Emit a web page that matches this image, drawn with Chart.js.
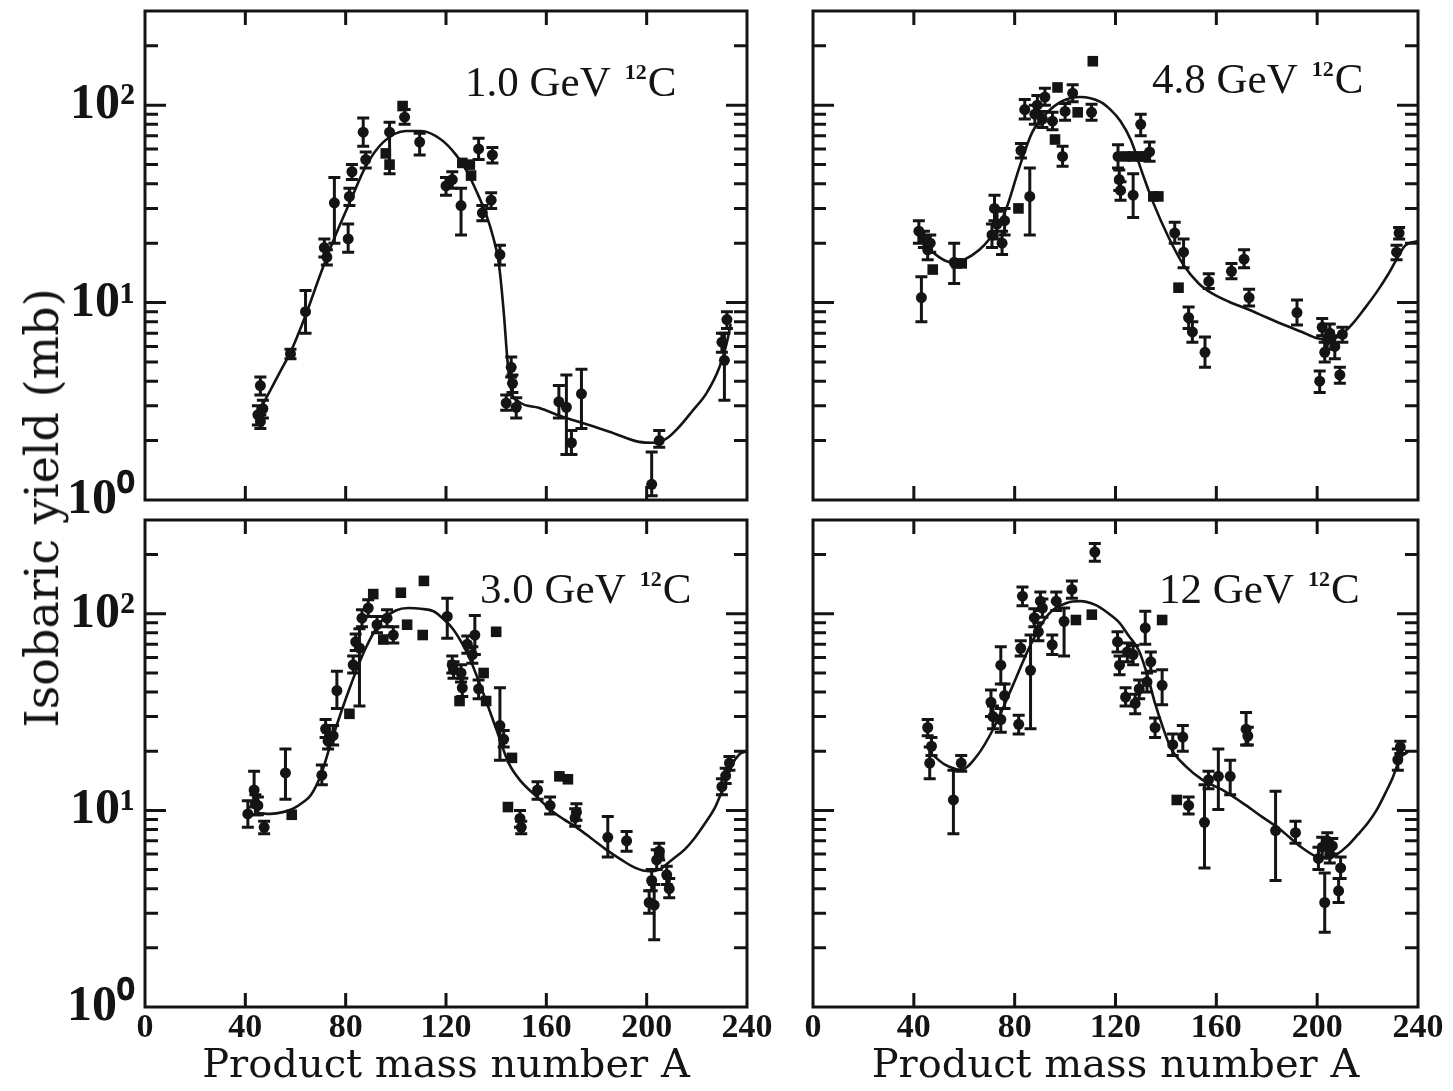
<!DOCTYPE html>
<html lang="en">
<head>
  <meta charset="UTF-8">
  <title>Isobaric yield vs product mass number</title>
  <script src="https://cdn.jsdelivr.net/npm/chart.js"></script>
  <style>
    body {
      margin: 0;
      background: #fff;
      width: 1453px;
      height: 1091px;
      position: relative;
      overflow: hidden;
    }
    canvas.panel {
      position: absolute;
      left: 0;
      top: 0;
    }
    .tag {
      position: absolute;
      font-family: "Liberation Serif", serif;
      font-size: 43px;
      line-height: 43px;
      color: #141414;
      white-space: nowrap;
    }
    .tag sup {
      font-size: 22px;
      line-height: 22px;
      font-weight: bold;
      vertical-align: top;
      position: relative;
      top: 1px;
      margin-left: 4px;
      margin-right: 1px;
    }
    #ytitle {
      position: absolute;
      left: 42px;
      top: 508px;
      transform: translate(-50%, -50%) rotate(-90deg);
      font-family: "DejaVu Serif", serif;
      font-size: 46px;
      color: #141414;
      white-space: nowrap;
    }
  </style>
</head>
<body>
  <canvas class="panel" id="c1" width="1453" height="1091"></canvas>
  <canvas class="panel" id="c2" width="1453" height="1091"></canvas>
  <canvas class="panel" id="c3" width="1453" height="1091"></canvas>
  <canvas class="panel" id="c4" width="1453" height="1091"></canvas>

  <div id="ytitle">Isobaric yield (mb)</div>
  <div class="tag" style="left:465px; top:60px">1.0 GeV <sup>12</sup>C</div>
  <div class="tag" style="left:1152px; top:57px">4.8 GeV <sup>12</sup>C</div>
  <div class="tag" style="left:480px; top:567px">3.0 GeV <sup>12</sup>C</div>
  <div class="tag" style="left:1159px; top:567px">12 GeV <sup>12</sup>C</div>

  <script>
    // axis ticks
    const X_TICKS = [0, 40, 80, 120, 160, 200, 240];
    const Y_DECADES = [1, 10, 100];
    const Y_LABELS = { 1: '10⁰', 10: '10¹', 100: '10²' };
    const Y_MIN = 1;
    const Y_MAX = 300;

    // 1.0 GeV 12C
    const p1CircA = [45, 46, 46, 47, 58, 64, 71.5, 72.5, 75.5, 81, 81.5, 82.5, 87, 88, 97.5, 103.5, 109.5, 120, 122.5, 126, 133, 134.5, 138, 138.5, 141.5, 144, 146, 146.5, 148, 165, 168, 170, 174, 202, 205, 230, 231, 232];
    const p1CircY = [2.7, 3.8, 2.5, 2.9, 5.5, 9.0, 19, 17, 32, 21, 34.5, 46, 73, 53, 73, 87, 65, 39, 42, 31, 60, 28.5, 33, 56, 17.5, 3.1, 4.7, 3.9, 2.95, 3.15, 2.95, 1.95, 3.45, 1.2, 2.0, 6.3, 5.1, 8.2];
    const p1CircLo = [2.4, 3.4, 2.3, 2.6, 5.2, 7.0, 17, 15.5, 20, 18, 31, 42, 62, 48, 45, 80, 56, 35, 38, 22, 53, 26, 30, 51, 15.5, 2.85, 4.2, 3.5, 2.6, 2.6, 1.7, 1.7, 2.3, 1.05, 1.85, 5.6, 3.2, 7.4];
    const p1CircHi = [3.0, 4.2, 2.7, 3.2, 5.8, 11.5, 21, 18.5, 43, 25, 38, 50, 86, 58, 82, 95, 72, 43, 46, 38, 68, 31, 36, 61, 19.5, 3.4, 5.3, 4.3, 3.3, 3.8, 4.3, 2.25, 4.6, 1.75, 2.25, 7.0, 7.0, 9.0];
    const p1SqA = [96, 97.5, 102.7, 126.5, 129.5, 130];
    const p1SqY = [57, 50, 99, 51, 50, 44];
    const p1FitA = [46, 50, 54, 58, 64, 70, 76, 82, 88, 95, 104, 110, 118, 124, 128, 132, 136, 139, 141, 143, 144.5, 146, 149, 157, 168, 177, 186, 197, 203, 208, 213, 218, 224, 229, 232, 233.5];
    const p1FitY = [2.9, 3.6, 4.5, 5.6, 8.6, 14, 22, 33, 49, 65, 74, 74, 67, 56, 47, 37, 28, 21, 16, 9, 5.1, 3.6, 3.15, 2.93, 2.6, 2.4, 2.2, 1.97, 1.95, 2.05, 2.35, 2.8, 3.5, 4.7, 6.3, 7.8];

    // 4.8 GeV 12C
    const p2CircA = [42, 43, 44, 45.5, 46.5, 56, 71, 72, 73, 75, 76, 82.5, 84, 86, 88, 89, 91, 92, 95, 99, 100, 103, 110.5, 121, 121.5, 122, 127, 130, 133.5, 143.5, 147, 149, 150.5, 155.5, 157, 166, 171, 173, 192, 201, 202, 203, 204, 205, 207, 209, 210, 231.5, 232.5];
    const p2CircY = [23, 10.6, 21, 18.5, 20, 16, 22, 30, 25, 20, 26, 59, 95, 34.5, 90, 100, 85, 110, 83, 55, 93, 115, 92, 55, 42, 37, 35, 80, 58, 22.5, 18, 8.4, 7.1, 5.6, 12.8, 14.4, 16.6, 10.6, 8.9, 4.0, 7.5, 5.6, 6.5, 7.0, 6.0, 4.3, 6.9, 18, 22.5];
    const p2CircLo = [20, 8.0, 19, 16.5, 18, 12.5, 19, 26, 21, 17.5, 22, 54, 85, 22, 80, 90, 77, 100, 75, 49, 84, 104, 84, 48, 37, 33, 27, 70, 52, 20, 15, 7.4, 6.3, 4.7, 11.8, 13.2, 15, 9.6, 7.7, 3.5, 6.8, 5.0, 5.8, 6.4, 5.2, 3.9, 6.3, 16.5, 21];
    const p2CircHi = [26, 13.5, 23, 20.5, 22, 20, 25, 35, 29, 23, 30, 64, 107, 48, 100, 112, 93, 122, 92, 62, 102, 127, 101, 63, 47, 41, 45, 90, 65, 25.5, 21, 9.5, 8.0, 6.7, 14, 15.8, 18.5, 11.7, 10.3, 4.5, 8.3, 6.3, 7.2, 7.8, 6.8, 4.7, 7.5, 19.5, 24];
    const p2SqA = [47.5, 57, 59, 81.5, 96, 97, 105, 111, 124, 127, 130, 132, 135, 137, 145];
    const p2SqY = [14.7, 15.8, 15.8, 30, 67, 123, 92, 167, 55, 55, 55, 55, 34.5, 34.5, 11.9];
    const p2FitA = [42, 45, 50, 55, 60, 66, 70, 74, 77, 82, 87, 93, 99, 106, 114, 118, 122, 126, 131, 135, 141, 147, 153, 158, 165, 173, 180, 187, 194, 200, 205, 209, 214, 219, 224, 228, 232, 235, 240];
    const p2FitY = [23, 19.5, 17, 16, 16.5, 18.5, 21, 25, 30.7, 49, 73, 92, 105, 110, 104, 95, 83, 67, 44, 32, 21.5, 15.5, 12.5, 11.2, 10.1, 9.2, 8.4, 7.7, 7.1, 6.6, 6.5, 6.8, 7.8, 9.4, 11.5, 13.8, 17, 19.5, 20.5];

    // 3.0 GeV 12C
    const p3CircA = [41, 43.5, 44, 45, 47.5, 56, 70.5, 72, 73, 75, 76.5, 83, 84, 85.5, 86.5, 89, 92.5, 96.5, 99, 120.5, 122.5, 123, 126, 126.5, 128.5, 130.5, 131.5, 133, 141.5, 143, 149.5, 150, 156.5, 161.5, 171.5, 172, 184.5, 192, 201, 202, 203, 204, 205, 208, 209, 230, 231.5, 233];
    const p3CircY = [9.6, 12.7, 10.8, 10.6, 8.2, 15.5, 15.1, 26, 22.5, 24, 40.7, 55, 72, 67, 95, 107, 88, 95, 78, 97, 55, 52, 50, 42, 70, 62, 78, 41.5, 27, 23, 9.1, 8.2, 12.7, 10.6, 9.2, 9.8, 7.3, 7.0, 3.4, 4.4, 3.3, 5.6, 6.2, 4.7, 4.0, 13.2, 15, 17.4];
    const p3CircLo = [8.2, 10.4, 9.5, 9.5, 7.6, 11.4, 13.5, 23.5, 20.5, 21.5, 33, 50, 65, 34, 86, 97, 80, 86, 71, 75, 50, 47, 45, 38, 63, 56, 62, 37, 18, 21, 8.2, 7.6, 11.4, 9.6, 8.3, 8.9, 5.8, 6.2, 3.0, 3.9, 2.2, 5.0, 5.6, 4.2, 3.6, 12, 13.7, 16];
    const p3CircHi = [11.2, 15.8, 12, 11.7, 8.8, 20.5, 17, 29, 25, 27, 51, 61, 79, 84, 105, 118, 97, 105, 86, 120, 61, 57, 55, 47, 77, 68, 98, 46, 42, 25.5, 10, 8.8, 14, 11.7, 10.2, 10.8, 9.3, 7.8, 3.9, 5.0, 4.2, 6.3, 6.8, 5.2, 4.5, 14.5, 16.4, 18.8];
    const p3SqA = [58.5, 81.5, 91, 95, 102, 104.5, 110.7, 111.2, 125.4, 135, 136, 140, 144.7, 146.3, 165.2, 168.6, 205];
    const p3SqY = [9.5, 31, 126, 74, 128, 88, 78, 147, 36, 50, 36, 81, 10.4, 18.5, 14.9, 14.4, 6.0];
    const p3FitA = [45, 50, 55, 59, 63, 66, 70, 75, 81.5, 88, 94, 100, 105, 110, 115, 119, 123, 129, 135, 140, 145, 150, 156, 162, 167, 172, 178, 184, 190, 195.5, 201, 205, 210, 215, 219, 223, 227, 230, 232, 234, 237, 240];
    const p3FitY = [9.7, 9.6, 9.8, 10.2, 11, 11.9, 15, 23.9, 41.6, 67, 91, 104, 107, 106, 103, 94, 83, 61, 39, 26, 17.4, 14, 11.8, 10, 9, 8.2, 7.2, 6.3, 5.6, 5.1, 4.9, 5.0, 5.6, 6.3, 7.2, 8.5, 10.2, 12.5, 14.5, 17, 19.3, 20];

    // 12 GeV 12C
    const p4CircA = [45.5, 46.3, 47, 55.7, 58.8, 70.6, 71.4, 74.5, 74.5, 76, 81.6, 82.4, 83.1, 86.3, 87.8, 89.4, 90.2, 91, 94.9, 96.5, 99.6, 102.7, 111.8, 120.8, 121.6, 124, 124.7, 127, 127.8, 129.4, 131.8, 132.5, 134, 135.7, 138.5, 142.7, 146.7, 149, 155.3, 156.9, 160.8, 165.5, 171.8, 172.5, 183.5, 191.4, 200.5, 202, 203, 204, 205, 206, 208.5, 209.3, 232, 233];
    const p4CircY = [26.4, 17.4, 21.2, 11.3, 17.4, 35.5, 30, 54.8, 29, 38.4, 27.4, 66.8, 123, 51.6, 95.5, 81, 116, 107, 69.5, 116, 91.6, 133, 206, 72, 54.8, 37.7, 64, 62, 35, 41.5, 84.7, 45, 57, 26.4, 43.3, 21.6, 23.6, 10.6, 8.7, 14.3, 14.9, 14.9, 25.9, 23.9, 7.9, 7.7, 5.7, 6.5, 3.4, 7.0, 6.0, 6.6, 3.9, 5.1, 18.1, 21];
    const p4CircLo = [24, 14.5, 19, 7.6, 15.8, 30, 26, 44, 25, 33, 24.5, 61, 110, 26, 86, 73, 104, 96, 62, 104, 61, 120, 185, 64, 49, 34, 57, 55, 31, 37, 70, 40, 51, 23.5, 34.5, 19, 20, 9.6, 5.1, 12.9, 10.1, 12, 21.5, 21.5, 4.4, 6.8, 5.0, 5.8, 2.4, 6.4, 5.4, 6.0, 3.4, 4.5, 16, 19.5];
    const p4CircHi = [29, 21, 23.5, 16, 19, 41, 34, 68, 33, 44, 30.5, 73, 137, 78, 106, 90, 129, 119, 78, 129, 107, 147, 228, 81, 61, 42, 71, 69, 39, 46, 103, 50, 64, 29.5, 52, 24.5, 27, 11.7, 13.5, 15.8, 20.5, 18, 31.5, 26.5, 12.5, 8.8, 6.5, 7.3, 4.8, 7.7, 6.7, 7.2, 4.5, 5.8, 20.5, 22.5];
    const p4SqA = [104.3, 110.6, 138.5, 144.3];
    const p4SqY = [93, 99, 93, 11.3];
    const p4FitA = [47.8, 52, 58.8, 65, 71.4, 79.2, 86.3, 93.3, 101, 106, 112, 117, 121.6, 125, 129.4, 133, 135.7, 139, 142, 148, 154.5, 162.4, 171.8, 178, 184.3, 189, 193.7, 200, 204, 208, 212, 216, 220, 223.5, 227, 230, 233, 236];
    const p4FitY = [19, 17.2, 16.1, 18.9, 25.8, 43, 69.5, 99, 114, 116, 111, 101, 90, 78, 64.5, 47, 35, 26, 20.7, 16.7, 14.3, 12.7, 10.6, 9.3, 8.2, 7.3, 6.5, 5.8, 5.7, 6.0, 6.6, 7.5, 8.6, 10, 12.2, 14.7, 18.5, 19.8];

    const INK = '#141414';
    const pts = (xs, ys) => xs.map((v, i) => ({ x: v, y: ys[i] }));

    // vertical error bars with caps, drawn under the markers
    const errorBars = {
      id: 'errorBars',
      beforeDatasetsDraw(chart) {
        const { ctx, scales: { x, y } } = chart;
        ctx.save();
        ctx.strokeStyle = INK;
        ctx.lineWidth = 3;
        chart.data.datasets.forEach(ds => {
          if (!ds.errLo) return;
          ds.data.forEach((p, i) => {
            const px = x.getPixelForValue(p.x);
            const top = y.getPixelForValue(ds.errHi[i]);
            const bot = y.getPixelForValue(ds.errLo[i]);
            ctx.beginPath();
            ctx.moveTo(px, top); ctx.lineTo(px, bot);
            ctx.moveTo(px - 6, top); ctx.lineTo(px + 6, top);
            ctx.moveTo(px - 6, bot); ctx.lineTo(px + 6, bot);
            ctx.stroke();
          });
        });
        ctx.restore();
      }
    };

    // box around the plot with inward ticks on all four sides
    const frame = {
      id: 'frame',
      afterDraw(chart) {
        const { ctx, chartArea: a, scales: { x, y } } = chart;
        ctx.save();
        ctx.strokeStyle = INK;
        ctx.lineWidth = 3;
        ctx.strokeRect(a.left, a.top, a.right - a.left, a.bottom - a.top);
        ctx.beginPath();
        X_TICKS.slice(1, -1).forEach(v => {
          const px = x.getPixelForValue(v);
          ctx.moveTo(px, a.bottom); ctx.lineTo(px, a.bottom - 14);
          ctx.moveTo(px, a.top); ctx.lineTo(px, a.top + 14);
        });
        Y_DECADES.forEach(d => {
          for (let m = 1; m <= 9; m++) {
            const v = m * d;
            if (v <= Y_MIN || v >= Y_MAX) continue;
            const py = y.getPixelForValue(v);
            const len = m === 1 ? 21 : 13;
            ctx.moveTo(a.left, py); ctx.lineTo(a.left + len, py);
            ctx.moveTo(a.right, py); ctx.lineTo(a.right - len, py);
          }
        });
        ctx.stroke();
        ctx.restore();
      }
    };

    function makePanel(id, box, yLabels, xLabels, circ, sq, fit) {
      const [l, t, r, b] = box;
      const yW = yLabels ? 100 : 0;
      const xH = xLabels ? 80 : 0;
      new Chart(document.getElementById(id), {
        type: 'scatter',
        data: {
          datasets: [
            { data: pts(fit[0], fit[1]), showLine: true, borderColor: INK, borderWidth: 2.6,
              pointRadius: 0, cubicInterpolationMode: 'monotone' },
            { data: pts(circ[0], circ[1]), errLo: circ[2], errHi: circ[3], pointStyle: 'circle',
              pointRadius: 5.5, backgroundColor: INK, borderWidth: 0 },
            { data: pts(sq[0], sq[1]), pointStyle: 'rect', pointRadius: 7.5,
              backgroundColor: INK, borderWidth: 0 }
          ]
        },
        options: {
          responsive: false,
          animation: false,
          devicePixelRatio: 1,
          layout: { padding: { left: l - yW, top: t, right: 1453 - r, bottom: 1091 - b - xH } },
          plugins: { legend: { display: false }, tooltip: { enabled: false } },
          scales: {
            x: {
              type: 'linear', min: 0, max: 240,
              grid: { display: false, drawTicks: false }, border: { display: false },
              ticks: {
                display: xLabels, stepSize: 40, autoSkip: false, maxRotation: 0, padding: 1, color: INK,
                font: { family: 'Liberation Serif', size: 34, weight: 'bold' }
              },
              title: {
                display: xLabels, text: 'Product mass number A', color: INK, padding: 0,
                font: { family: 'DejaVu Serif', size: 40, lineHeight: 1 }
              },
              afterFit(s) { s.height = xH; s.paddingLeft = 0; s.paddingRight = 0; }
            },
            y: {
              type: 'logarithmic', min: Y_MIN, max: Y_MAX,
              grid: { display: false, drawTicks: false }, border: { display: false },
              afterBuildTicks(s) { s.ticks = Y_DECADES.map(v => ({ value: v })); },
              ticks: {
                display: yLabels, padding: 10, color: INK,
                font: { family: 'Liberation Serif', size: 50, weight: 'bold' },
                callback: v => Y_LABELS[v]
              },
              afterFit(s) { s.width = yW; s.paddingTop = 0; s.paddingBottom = 0; }
            }
          }
        },
        plugins: [errorBars, frame]
      });
    }

    makePanel('c1', [145, 11, 747, 500], true, false,
      [p1CircA, p1CircY, p1CircLo, p1CircHi], [p1SqA, p1SqY], [p1FitA, p1FitY]);
    makePanel('c2', [813, 11, 1418, 500], false, false,
      [p2CircA, p2CircY, p2CircLo, p2CircHi], [p2SqA, p2SqY], [p2FitA, p2FitY]);
    makePanel('c3', [145, 520, 747, 1007], true, true,
      [p3CircA, p3CircY, p3CircLo, p3CircHi], [p3SqA, p3SqY], [p3FitA, p3FitY]);
    makePanel('c4', [813, 520, 1418, 1007], false, true,
      [p4CircA, p4CircY, p4CircLo, p4CircHi], [p4SqA, p4SqY], [p4FitA, p4FitY]);
  </script>
</body>
</html>
